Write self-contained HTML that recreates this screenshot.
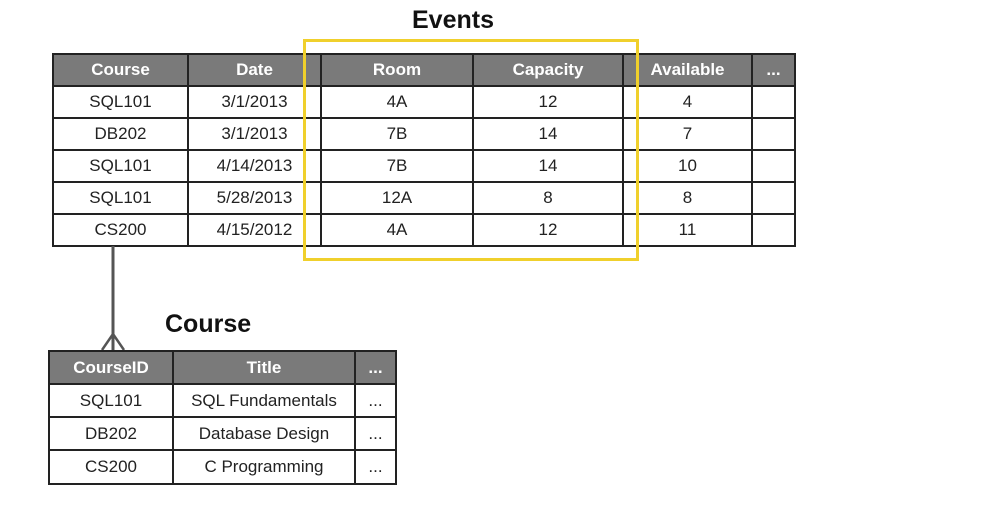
<!DOCTYPE html>
<html><head><meta charset="utf-8"><style>
body{margin:0;background:#fff;width:986px;height:527px;position:relative;overflow:hidden;font-family:"Liberation Sans",sans-serif}
.t{position:absolute;border-collapse:collapse;table-layout:fixed}
.t td{border:2px solid #222;text-align:center;font-size:17px;color:#222;padding:0;box-sizing:border-box}
.t tr.h td{background:#7a7a7a;color:#fff;font-weight:bold}
.title{position:absolute;font-weight:bold;font-size:25px;color:#111}
</style></head><body>
<div class="title" style="left:412px;top:6px">Events</div>
<table class="t" style="left:52px;top:53px;width:742px">
<colgroup><col style="width:135px"><col style="width:133px"><col style="width:152px"><col style="width:150px"><col style="width:129px"><col style="width:43px"></colgroup>
<tr class="h" style="height:32px"><td>Course</td><td>Date</td><td>Room</td><td>Capacity</td><td>Available</td><td>...</td></tr>
<tr style="height:32px"><td>SQL101</td><td>3/1/2013</td><td>4A</td><td>12</td><td>4</td><td></td></tr>
<tr style="height:32px"><td>DB202</td><td>3/1/2013</td><td>7B</td><td>14</td><td>7</td><td></td></tr>
<tr style="height:32px"><td>SQL101</td><td>4/14/2013</td><td>7B</td><td>14</td><td>10</td><td></td></tr>
<tr style="height:32px"><td>SQL101</td><td>5/28/2013</td><td>12A</td><td>8</td><td>8</td><td></td></tr>
<tr style="height:32px"><td>CS200</td><td>4/15/2012</td><td>4A</td><td>12</td><td>11</td><td></td></tr>
</table>
<div style="position:absolute;left:303px;top:39px;width:330px;height:216px;border:3px solid #f0d02c"></div>
<svg style="position:absolute;left:0;top:0" width="986" height="527">
<line x1="113" y1="246" x2="113" y2="350" stroke="#555" stroke-width="3"/>
<line x1="113" y1="334" x2="102" y2="350" stroke="#555" stroke-width="2.5"/>
<line x1="113" y1="334" x2="124" y2="350" stroke="#555" stroke-width="2.5"/>
</svg>
<div class="title" style="left:165px;top:310px">Course</div>
<table class="t" style="left:48px;top:350px;width:347px">
<colgroup><col style="width:124px"><col style="width:182px"><col style="width:41px"></colgroup>
<tr class="h" style="height:33px"><td>CourseID</td><td>Title</td><td>...</td></tr>
<tr style="height:33px"><td>SQL101</td><td>SQL Fundamentals</td><td>...</td></tr>
<tr style="height:33px"><td>DB202</td><td>Database Design</td><td>...</td></tr>
<tr style="height:34px"><td>CS200</td><td>C Programming</td><td>...</td></tr>
</table>
</body></html>
